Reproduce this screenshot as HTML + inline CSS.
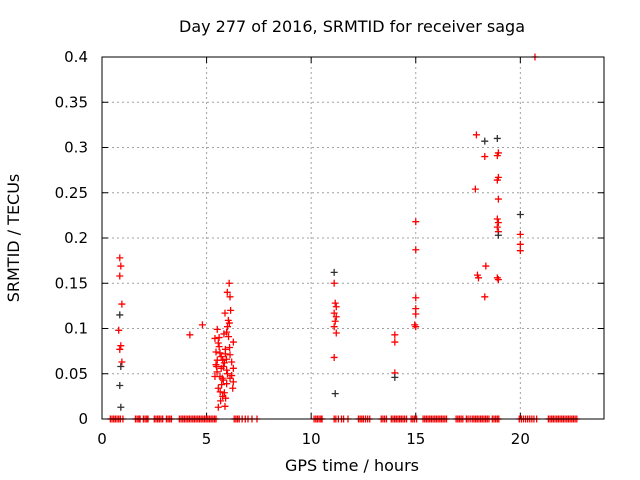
<!DOCTYPE html>
<html><head><meta charset="utf-8"><style>
body{margin:0;background:#fff;}
svg{display:block;font-family:"DejaVu Sans","Liberation Sans",sans-serif;}
</style></head><body>
<svg id="chart" width="640" height="480">
<text x="352" y="32" font-size="16" text-anchor="middle">Day 277 of 2016, SRMTID for receiver saga</text>
<text x="352" y="471" font-size="16" text-anchor="middle">GPS time / hours</text>
<text x="0" y="0" font-size="16" text-anchor="middle" transform="translate(19,238) rotate(-90)">SRMTID / TECUs</text>
<g id="grid"></g><g id="marks"></g>
<rect x="102" y="57" width="502" height="362" fill="none" stroke="#000" stroke-width="1"/>
</svg>
<script>
const xTicks=[0,5,10,15,20];
const yTicks=[0,0.05,0.1,0.15,0.2,0.25,0.3,0.35,0.4];
const yTickLabels=["0","0.05","0.1","0.15","0.2","0.25","0.3","0.35","0.4"];
const redX=[0.85,0.9,0.85,0.95,0.8,0.9,0.85,0.95,4.2,4.8,
6.08,5.99,6.12,6.15,5.88,6.04,6.09,5.96,5.51,5.83,6.28,5.56,5.40,5.45,5.64,6.12,5.51,5.77,6.20,5.48,5.80,6.28,5.96,5.64,5.40,6.12,5.80,6.28,5.72,5.96,5.56,6.25,5.77,5.91,5.67,5.88,5.56,
5.6,5.7,5.85,5.9,6.0,6.05,5.5,5.75,5.65,5.95,6.1,5.45,5.85,6.2,5.6,6.0,5.7,5.9,
11.1,11.15,11.2,11.1,11.2,11.15,11.1,11.2,11.1,
14.0,14.0,14.0,
15.0,15.0,15.0,15.0,15.0,14.95,15.0,
17.9,17.85,17.95,18.0,18.3,18.35,18.3,
18.95,18.9,18.95,18.9,18.95,18.9,18.95,18.9,18.95,18.9,18.95,
20.0,20.0,20.0,20.7];
const redY=[0.178,0.169,0.158,0.127,0.098,0.081,0.077,0.063,0.093,0.104,
0.150,0.140,0.135,0.120,0.117,0.109,0.106,0.096,0.099,0.094,0.085,0.084,0.089,0.074,0.073,0.071,0.065,0.065,0.063,0.058,0.058,0.056,0.054,0.047,0.047,0.045,0.043,0.041,0.038,0.039,0.034,0.034,0.025,0.023,0.020,0.014,0.013,
0.080,0.069,0.062,0.077,0.050,0.091,0.052,0.045,0.030,0.066,0.079,0.060,0.029,0.048,0.090,0.102,0.056,0.072,
0.150,0.128,0.124,0.117,0.113,0.108,0.102,0.095,0.068,
0.093,0.085,0.051,
0.218,0.187,0.134,0.122,0.116,0.104,0.102,
0.314,0.254,0.159,0.156,0.290,0.169,0.135,
0.294,0.291,0.267,0.264,0.243,0.221,0.217,0.212,0.207,0.156,0.154,
0.204,0.193,0.186,0.400];
const blackX=[0.85,0.9,0.85,0.9,11.1,11.15,14.0,18.3,18.9,18.95,20.0];
const blackY=[0.115,0.058,0.037,0.013,0.162,0.028,0.046,0.307,0.310,0.203,0.226];
const zeroX=[0.4,0.48,0.56,0.64,0.72,0.8,0.88,1.0,1.6,1.68,1.76,1.82,1.98,2.06,2.14,2.2,
2.5,2.58,2.66,2.74,2.82,2.9,3.08,3.16,3.24,3.32,
3.7,3.78,3.86,3.94,4.02,4.1,4.18,4.26,4.34,4.42,4.5,4.58,4.66,4.74,4.82,4.9,
4.98,5.06,5.14,5.22,5.3,5.38,5.45,6.32,6.4,6.48,6.56,6.7,6.85,6.98,7.17,7.41,
10.14,10.22,10.3,10.38,10.46,10.52,11.1,11.18,11.3,11.45,11.55,11.76,
12.26,12.34,12.42,12.5,12.6,12.7,12.8,13.35,13.43,13.51,13.6,
13.83,13.91,13.99,14.07,14.15,14.23,14.31,14.39,14.47,14.56,14.78,14.86,14.94,15.04,
15.35,15.43,15.51,15.59,15.67,15.75,15.83,15.91,15.99,16.07,16.15,16.23,16.31,16.39,16.47,
16.93,17.01,17.09,17.17,17.25,17.42,17.5,17.6,17.7,17.78,17.86,17.94,18.02,18.1,18.18,18.26,18.34,18.42,18.5,
18.66,18.74,18.82,18.9,18.97,19.95,20.05,20.15,20.25,20.35,20.45,20.55,20.65,20.78,
21.34,21.42,21.5,21.58,21.66,21.74,21.82,21.9,21.98,22.06,22.14,22.22,22.3,22.38,22.46,22.54,22.62,22.7];
const X=v=>102+v*(502/24);
const Y=v=>419-v*905;
const ns="http://www.w3.org/2000/svg";
const grid=document.getElementById('grid'),marks=document.getElementById('marks');
function mk(t,a,p){const e=document.createElementNS(ns,t);for(const k in a)e.setAttribute(k,a[k]);p.appendChild(e);return e;}
xTicks.forEach(v=>{
 const x=X(v);
 if(v>0){const l=mk('line',{x1:x,y1:57,x2:x,y2:419,stroke:'#a0a0a0','stroke-dasharray':'2,3'},grid);
 
 }
 mk('line',{x1:x,y1:419,x2:x,y2:413,stroke:'#000'},grid);
 mk('line',{x1:x,y1:57,x2:x,y2:63,stroke:'#000'},grid);
 const t=mk('text',{x:x,y:444,'font-size':15,'text-anchor':'middle'},grid);t.textContent=v;
 
 
});
yTicks.forEach((v,i)=>{
 const y=Y(v);
 if(i>0&&i<yTicks.length-1){const l=mk('line',{x1:102,y1:y,x2:604,y2:y,stroke:'#a0a0a0','stroke-dasharray':'2,3'},grid);
 
 }
 mk('line',{x1:102,y1:y,x2:108,y2:y,stroke:'#000'},grid);
 mk('line',{x1:604,y1:y,x2:598,y2:y,stroke:'#000'},grid);
 const t=mk('text',{x:88,y:y+5,'font-size':15,'text-anchor':'end'},grid);t.textContent=yTickLabels[i];
 
 
});
function plus(x,y,c,name){
 const g=mk('path',{d:`M${X(x)-3.5},${Y(y)}h7M${X(x)},${Y(y)-3.5}v7`,stroke:c,'stroke-width':1.3,fill:'none'},marks);
 
 
}
zeroX.forEach(x=>plus(x,0,'#ff0000','zero-point'));
redX.forEach((x,i)=>plus(x,redY[i],'#ff0000','srmtid-point'));
blackX.forEach((x,i)=>plus(x,blackY[i],'#303030','srmtid-point-dark'));
</script>
</body></html>
